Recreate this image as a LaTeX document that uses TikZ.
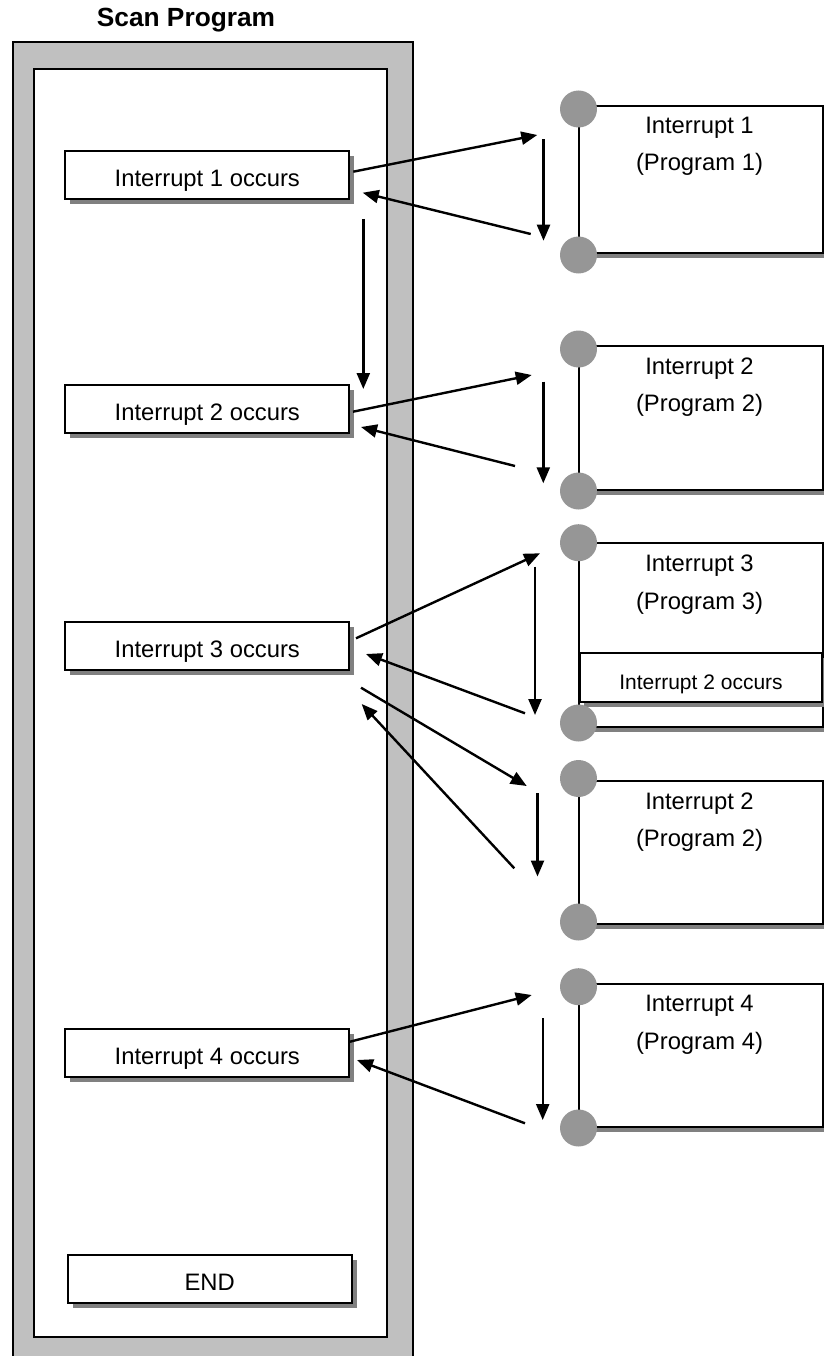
\documentclass[tikz,border=0pt]{standalone}
\usepackage{fontspec}
\setmainfont{Liberation Sans}
\usetikzlibrary{arrows.meta,shadows}
\definecolor{framegray}{HTML}{C0C0C0}
\definecolor{shgray}{HTML}{808080}
\definecolor{dotgray}{HTML}{969696}
\begin{document}
\begin{tikzpicture}[x=1pt,y=-1pt,
  frame/.style={draw=black, line width=1.8pt, anchor=north west, inner sep=0pt},
  evbox/.style={draw=black, line width=2pt, fill=white,
    general shadow={fill=shgray, shadow xshift=5pt, shadow yshift=-5pt},
    minimum width=284pt, inner sep=0pt, text height=35.5pt, text depth=12.5pt,
    font=\fontsize{23.8}{28}\selectfont},
  smallbox/.style={draw=black, line width=2pt, fill=white,
    general shadow={fill=shgray, shadow xshift=4pt, shadow yshift=-5pt},
    minimum width=242pt, inner sep=0pt, text height=36pt, text depth=12.5pt,
    font=\fontsize{21}{25}\selectfont},
  pbox/.style={draw=black, line width=2pt, fill=white, anchor=north west,
    general shadow={fill=shgray, shadow xshift=4pt, shadow yshift=-5pt},
    minimum width=244pt, inner sep=0pt},
  ptext/.style={anchor=base, inner sep=0pt, font=\fontsize{23.8}{28}\selectfont},
  dot/.style={circle, fill=dotgray, draw=none, minimum size=37pt, inner sep=0pt},
  conn/.style={line width=2.4pt, -{Triangle[length=16pt,width=13pt]}}
]
\useasboundingbox (0,0) rectangle (823,1356);

% title and frame
\node[anchor=base, inner sep=0pt, font=\fontsize{26.3}{30}\selectfont\bfseries] (title) at (186,27) {Scan Program};
\node[frame, fill=framegray, minimum width=400pt, minimum height=1340pt] (outer) at (12,41) {};
\node[frame, fill=white, minimum width=353pt, minimum height=1268pt] (inner) at (33,68) {};

% left event boxes
\node[evbox] (b1) at (207.3,174.7) {Interrupt 1 occurs};
\node[evbox] (b2) at (207.3,409) {Interrupt 2 occurs};
\node[evbox] (b3) at (207.3,646) {Interrupt 3 occurs};
\node[evbox] (b4) at (207.3,1052.5) {Interrupt 4 occurs};
\node[evbox] (bend) at (209.7,1279) {END};

% program boxes
\node[pbox, minimum height=147pt] (p1) at (577.7,105) {};
\node[pbox, minimum height=144pt] (p2) at (577.7,345) {};
\node[pbox, minimum height=184pt] (p3) at (577.7,541.7) {};
\node[pbox, minimum height=143pt] (p2b) at (577.7,780) {};
\node[pbox, minimum height=143pt] (p4) at (577.7,982.7) {};
\node[smallbox] (s3) at (701,677.5) {Interrupt 2 occurs};

% corner dots
\node[dot] (p1t) at (578.5,109) {};
\node[dot] (p1b) at (578.5,255) {};
\node[dot] (p2t) at (578.5,349) {};
\node[dot] (p2bo) at (578.5,491) {};
\node[dot] (p3t) at (578.5,542.7) {};
\node[dot] (p3b) at (578.5,723) {};
\node[dot] (p2bt) at (578.5,778.5) {};
\node[dot] (p2bb) at (578.5,922) {};
\node[dot] (p4t) at (578.5,986.7) {};
\node[dot] (p4b) at (578.5,1128) {};

% program texts
\node[ptext] (t1a) at (699.5,133.3) {Interrupt 1};
\node[ptext] (t1b) at (699.5,170.7) {(Program 1)};
\node[ptext] (t2a) at (699.5,374) {Interrupt 2};
\node[ptext] (t2b) at (699.5,411.4) {(Program 2)};
\node[ptext] (t3a) at (699.5,571.7) {Interrupt 3};
\node[ptext] (t3b) at (699.5,609.1) {(Program 3)};
\node[ptext] (t2ba) at (699.5,809.3) {Interrupt 2};
\node[ptext] (t2bb) at (699.5,846.7) {(Program 2)};
\node[ptext] (t4a) at (699.5,1011.7) {Interrupt 4};
\node[ptext] (t4b) at (699.5,1049.1) {(Program 4)};

% connector end points
\coordinate (a1s) at (353.3,171.7);  \coordinate (a1e) at (537.3,135);
\coordinate (d1s) at (543.5,139.3);  \coordinate (d1e) at (543.5,240.7);
\coordinate (r1s) at (530.7,234);    \coordinate (r1e) at (362.7,192.7);
\coordinate (v1s) at (363.3,219);    \coordinate (v1e) at (363.3,389);

\coordinate (a2s) at (353,411.7);    \coordinate (a2e) at (531.7,375);
\coordinate (d2s) at (543.3,381.7);  \coordinate (d2e) at (543.3,483.3);
\coordinate (r2s) at (515,466);      \coordinate (r2e) at (361,427);

\coordinate (a3s) at (356,638.3);    \coordinate (a3e) at (540,553.3);
\coordinate (d3s) at (535,566.7);    \coordinate (d3e) at (535,715);
\coordinate (r3s) at (525,713.3);    \coordinate (r3e) at (366,654);
\coordinate (a3bs) at (361,687.7);   \coordinate (a3be) at (526.7,786);
\coordinate (d3bs) at (537.5,793.3); \coordinate (d3be) at (537.5,876.5);
\coordinate (r3bs) at (514.3,868.3); \coordinate (r3be) at (361.7,704);

\coordinate (a4s) at (350,1041.7);   \coordinate (a4e) at (531.7,995);
\coordinate (d4s) at (542.7,1018.3); \coordinate (d4e) at (542.7,1120);
\coordinate (r4s) at (525,1123.3);   \coordinate (r4e) at (357,1060);

% connectors
\draw[conn] (a1s) -- (a1e);
\draw[conn] (d1s) -- (d1e);
\draw[conn] (r1s) -- (r1e);
\draw[conn] (v1s) -- (v1e);
\draw[conn] (a2s) -- (a2e);
\draw[conn] (d2s) -- (d2e);
\draw[conn] (r2s) -- (r2e);
\draw[conn] (a3s) -- (a3e);
\draw[conn] (d3s) -- (d3e);
\draw[conn] (r3s) -- (r3e);
\draw[conn] (a3bs) -- (a3be);
\draw[conn] (d3bs) -- (d3be);
\draw[conn] (r3bs) -- (r3be);
\draw[conn] (a4s) -- (a4e);
\draw[conn] (d4s) -- (d4e);
\draw[conn] (r4s) -- (r4e);
\end{tikzpicture}
\end{document}
